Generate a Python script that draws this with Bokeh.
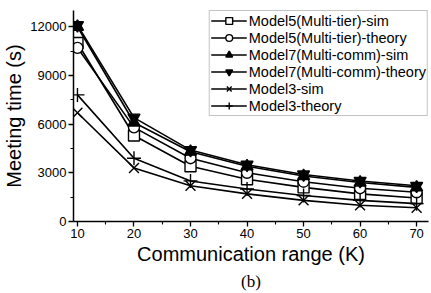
from bokeh.plotting import figure
from bokeh.models import Legend, LegendItem, Title, Range1d, FixedTicker
from bokeh.embed import file_html
from bokeh.resources import INLINE

K = [10, 20, 30, 40, 50, 60, 70]
m5_sim = [11000, 5300, 3400, 2600, 2100, 1700, 1450]
m5_theory = [10700, 5800, 3900, 3000, 2450, 2050, 1800]
m7_sim = [12000, 6100, 4300, 3400, 2800, 2400, 2100]
m7_theory = [12100, 6400, 4400, 3500, 2900, 2500, 2200]
m3_sim = [6700, 3300, 2200, 1700, 1300, 1000, 850]
m3_theory = [7800, 3900, 2500, 2000, 1600, 1300, 1100]
y_ticks = [0, 3000, 6000, 9000, 12000]
x_ticks = [10, 20, 30, 40, 50, 60, 70]

FONT = "Liberation Sans"

p = figure(width=431, height=293, output_backend="svg", toolbar_location=None,
           x_range=Range1d(9.3, 72.1), y_range=Range1d(0, 13000),
           min_border_left=73, min_border_right=3, min_border_top=10, min_border_bottom=71)
p.outline_line_color = None
p.grid.visible = False

series = [
    ("Model5(Multi-tier)-sim", m5_sim, "square", "white", 11),
    ("Model5(Multi-tier)-theory", m5_theory, "circle", "white", 11),
    ("Model7(Multi-comm)-sim", m7_sim, "triangle", "black", 12),
    ("Model7(Multi-comm)-theory", m7_theory, "inverted_triangle", "black", 12),
    ("Model3-sim", m3_sim, "x", "black", 14),
    ("Model3-theory", m3_theory, "cross", "black", 14),
]

items = []
for name, ys, marker, fill, sz in series:
    r1 = p.line(K, ys, line_color="black", line_width=1.6)
    r2 = p.scatter(K, ys, marker=marker, size=sz, line_color="black",
                   fill_color=fill, line_width=1.4)
    items.append(LegendItem(label=name, renderers=[r1, r2]))

legend = Legend(items=items, location="top_right", margin=0,
                border_line_color="#888888", border_line_width=1,
                label_text_font=FONT, label_text_font_size="14.5px",
                label_text_color="black",
                glyph_width=36, glyph_height=17, label_height=17,
                spacing=0, padding=1, label_standoff=2,
                background_fill_alpha=1)
p.add_layout(legend)

for ax in (p.xaxis[0], p.yaxis[0]):
    ax.axis_line_width = 1.5
    ax.axis_line_color = "black"
    ax.major_tick_line_width = 1.3
    ax.minor_tick_line_width = 1.1
    ax.major_tick_line_color = "black"
    ax.minor_tick_line_color = "black"
    ax.major_tick_in = 0
    ax.major_tick_out = 5
    ax.minor_tick_in = 0
    ax.minor_tick_out = 3
    ax.major_label_text_font = FONT
    ax.major_label_text_font_size = "13px"
    ax.major_label_text_color = "black"
    ax.axis_label_text_font = FONT
    ax.axis_label_text_font_size = "20px"
    ax.axis_label_text_font_style = "normal"
    ax.axis_label_text_color = "black"
    ax.major_label_standoff = 2

p.xaxis.ticker = FixedTicker(ticks=x_ticks, minor_ticks=[15, 25, 35, 45, 55, 65])
p.yaxis.ticker = FixedTicker(ticks=y_ticks, minor_ticks=[1500, 4500, 7500, 10500])
p.xaxis.axis_label = "Communication range (K)"
p.yaxis.axis_label = "Meeting time (s)"
p.xaxis.axis_label_standoff = 2
p.yaxis.axis_label_standoff = 2

p.add_layout(Title(text="(b)", align="center", text_font="Liberation Serif",
                   text_font_size="17px", text_font_style="normal",
                   text_color="black", standoff=5), "below")

open("out.html", "w").write(file_html(p, INLINE))
